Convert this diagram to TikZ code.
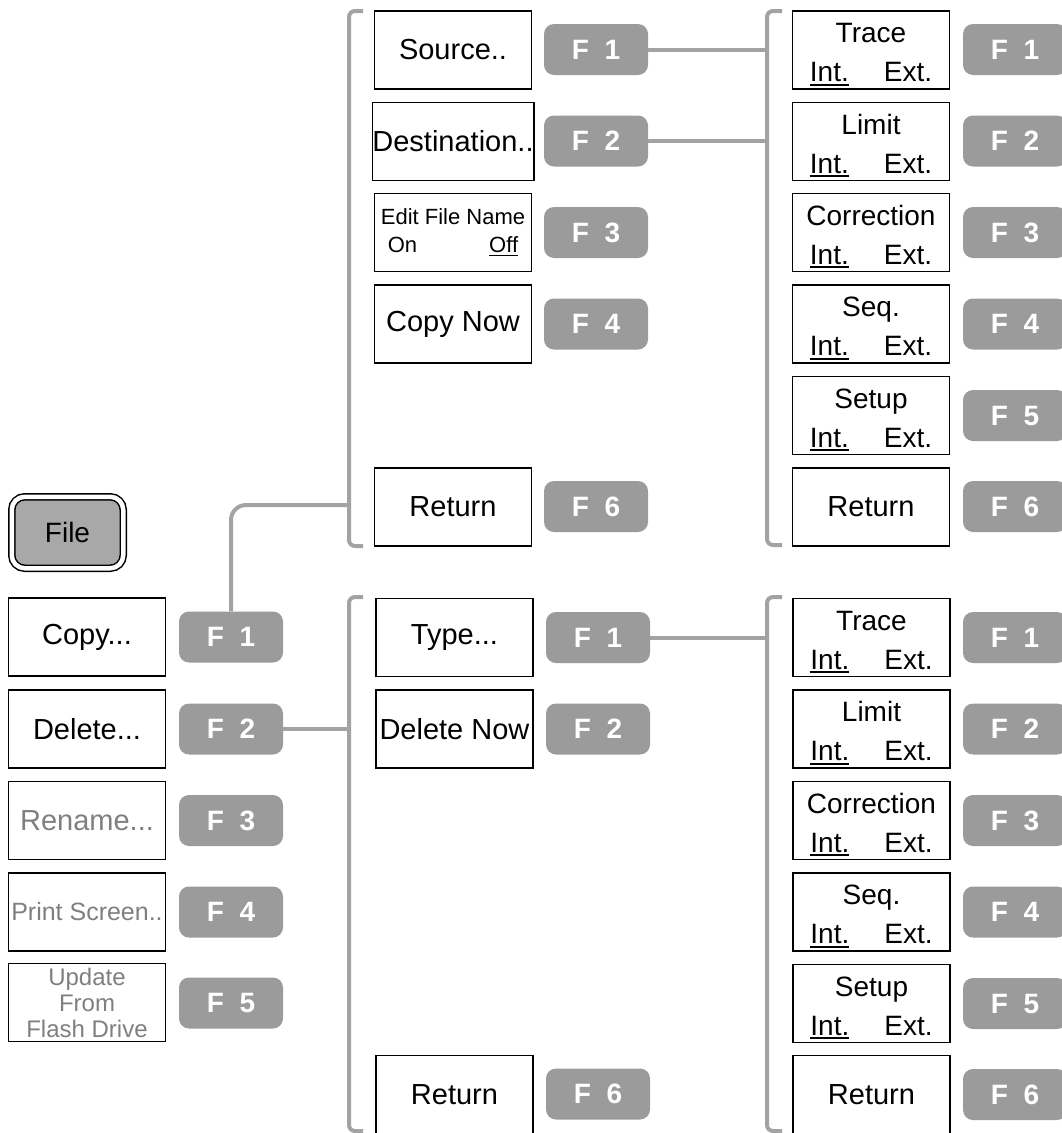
\documentclass[tikz,border=0pt]{standalone}
\usepackage{fontspec}
\setmainfont{Liberation Sans}
\usepackage{tikz}
\usepackage{xcolor}

\definecolor{grisTecla}{HTML}{9B9B9B}
\definecolor{grisLinea}{HTML}{A3A3A3}
\definecolor{grisTexto}{HTML}{7F7F7F}
\definecolor{grisBoton}{HTML}{A8A8A8}

\newcommand{\subr}[1]{\leavevmode\setbox0\hbox{#1}\rlap{\rule[-4pt]{\wd0}{1.8pt}}\box0}
\newcommand{\intext}[1]{\rule{0pt}{28pt}#1\\\subr{Int.}\hspace{35pt}Ext.}

\begin{document}
\begin{tikzpicture}[x=1pt, y=-1pt,
			 caja/.style={draw, line width=1.8pt, minimum width=157pt, minimum height=78pt, inner sep=0pt, align=center, font=\fontsize{29}{38}\selectfont},
			 doble/.style={caja, font=\fontsize{28}{39}\selectfont},
			 chica/.style={caja, font=\fontsize{22}{28}\selectfont},
			 apagada/.style={text=grisTexto},
			 tecla/.style={fill=grisTecla, rounded corners=10pt, minimum width=104pt, minimum height=51pt, inner sep=0pt, text=white, font=\fontsize{28}{34}\selectfont\bfseries},
			 boton/.style={draw, line width=1.5pt, double=white, double distance=4.5pt, fill=grisBoton, rounded corners=13pt, minimum width=111.5pt, minimum height=71.5pt, font=\fontsize{28}{34}\selectfont},
			 linea/.style={draw=grisLinea, line width=4pt, rounded corners=15pt},
			 corchete/.style={draw=grisLinea, line width=4pt, rounded corners=6pt}
  		]

	\useasboundingbox (0,0) rectangle (1062,1133);

	%Boton File y menu principal
		\node[boton] (file) at (67.5,532.5) {File};
		\node[caja] (l1) at (87,637) {Copy...};
		\node[caja] (l2) at (87,729) {Delete...};
		\node[caja, apagada] (l3) at (87,820.5) {Rename...};
		\node[caja, apagada, font=\fontsize{25}{30}\selectfont] (l4) at (87,912) {Print Screen..};
		\node[caja, apagada, font=\fontsize{24}{26}\selectfont] (l5) at (87,1002.5) {Update\\From\\Flash Drive};
		\node[tecla] (lk1) at (231,637) {F~~1};
		\node[tecla] (lk2) at (231,729) {F~~2};
		\node[tecla] (lk3) at (231,820.5) {F~~3};
		\node[tecla] (lk4) at (231,912) {F~~4};
		\node[tecla] (lk5) at (231,1003) {F~~5};

	%Menu Copy
		\node[caja] (c1) at (453,50) {Source..};
		\node[caja] (c2) at (453,141.5) {Destination..};
		\node[chica] (c3) at (453,232.5) {Edit File Name\\On\hspace{72pt}\subr{Off}};
		\node[caja] (c4) at (453,324) {Copy Now};
		\node[caja] (c6) at (453,507) {Return};
		\node[tecla] (ck1) at (596,49.5) {F~~1};
		\node[tecla] (ck2) at (596,141) {F~~2};
		\node[tecla] (ck3) at (596,232.5) {F~~3};
		\node[tecla] (ck4) at (596,324) {F~~4};
		\node[tecla] (ck6) at (596,506.5) {F~~6};

	%Menu Delete
		\node[caja] (d1) at (454.5,637.5) {Type...};
		\node[caja] (d2) at (454.5,729) {Delete Now};
		\node[caja] (d6) at (454.5,1094.5) {Return};
		\node[tecla] (dk1) at (598,637.5) {F~~1};
		\node[tecla] (dk2) at (598,729) {F~~2};
		\node[tecla] (dk6) at (598,1094) {F~~6};

	%Submenu de Copy
		\node[doble] (r1) at (871,50) {\intext{Trace}};
		\node[doble] (r2) at (871,141.5) {\intext{Limit}};
		\node[doble] (r3) at (871,232.5) {\intext{Correction}};
		\node[doble] (r4) at (871,324) {\intext{Seq.}};
		\node[doble] (r5) at (871,415.5) {\intext{Setup}};
		\node[caja] (r6) at (871,507) {Return};
		\node[tecla] (rk1) at (1015,49.5) {F~~1};
		\node[tecla] (rk2) at (1015,141) {F~~2};
		\node[tecla] (rk3) at (1015,232.5) {F~~3};
		\node[tecla] (rk4) at (1015,324) {F~~4};
		\node[tecla] (rk5) at (1015,415.5) {F~~5};
		\node[tecla] (rk6) at (1015,506.5) {F~~6};

	%Submenu de Delete
		\node[doble] (t1) at (871.5,637.5) {\intext{Trace}};
		\node[doble] (t2) at (871.5,729) {\intext{Limit}};
		\node[doble] (t3) at (871.5,820.5) {\intext{Correction}};
		\node[doble] (t4) at (871.5,912) {\intext{Seq.}};
		\node[doble] (t5) at (871.5,1003.5) {\intext{Setup}};
		\node[caja] (t6) at (871.5,1094.5) {Return};
		\node[tecla] (tk1) at (1015,637.5) {F~~1};
		\node[tecla] (tk2) at (1015,729) {F~~2};
		\node[tecla] (tk3) at (1015,820.5) {F~~3};
		\node[tecla] (tk4) at (1015,912) {F~~4};
		\node[tecla] (tk5) at (1015,1003.5) {F~~5};
		\node[tecla] (tk6) at (1015,1094.5) {F~~6};

	%Corchetes
		\draw[corchete] (363,11) -| (349,546) -- (363,546);
		\draw[corchete] (363,597) -| (349,1131) -- (363,1131);
		\draw[corchete] (782,11) -| (767,545) -- (782,545);
		\draw[corchete] (782,597) -| (767,1131) -- (782,1131);

	%Puntos de llegada en los corchetes
		\coordinate (pc) at (349,505);
		\coordinate (pd) at (349,729);
		\coordinate (pr1) at (767,49.5);
		\coordinate (pr2) at (767,141);
		\coordinate (pt1) at (767,637.5);

	%Conexiones
		\draw[linea] (lk1.north) |- (pc);
		\draw[linea] (lk2) -- (pd);
		\draw[linea] (ck1) -- (pr1);
		\draw[linea] (ck2) -- (pr2);
		\draw[linea] (dk1) -- (pt1);

	\end{tikzpicture}
\end{document}
